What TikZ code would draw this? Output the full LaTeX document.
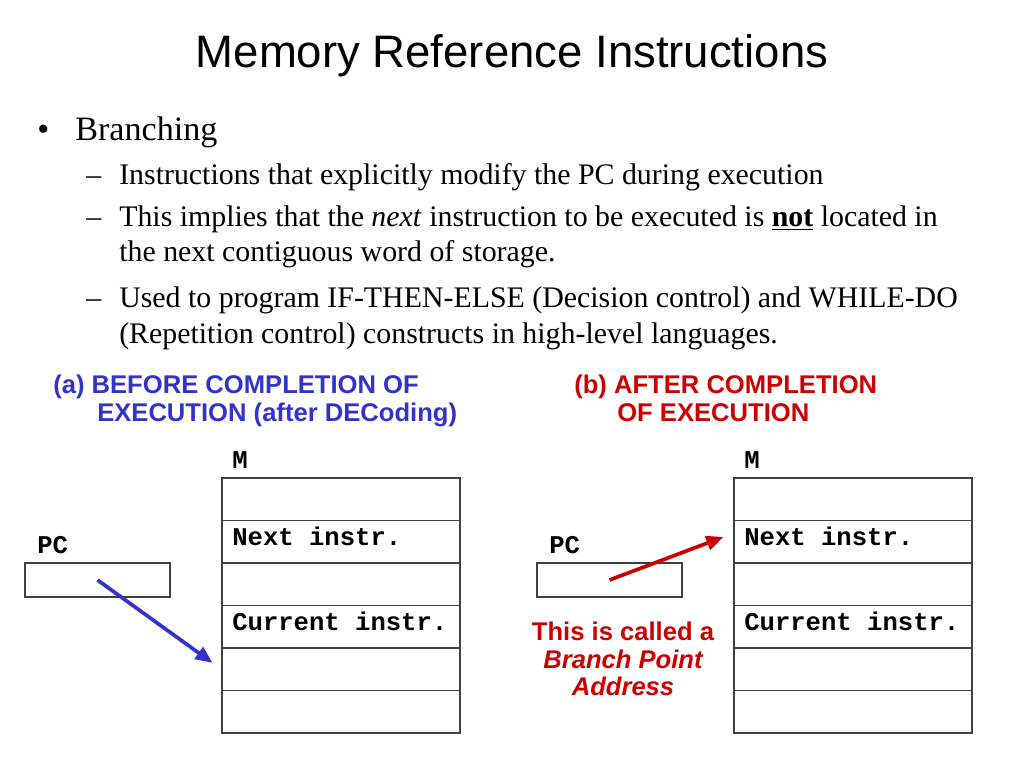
\documentclass[tikz,border=0pt]{standalone}
\usepackage{fontspec}
\setmainfont{Liberation Serif}
\setsansfont{Liberation Sans}
\setmonofont{Liberation Mono}
\usetikzlibrary{positioning, arrows.meta}
\definecolor{capblue}{RGB}{51,51,204}
\definecolor{capred}{RGB}{204,0,0}

\begin{document}
\begin{tikzpicture}[x=0.703125pt, y=-0.703125pt, >={Triangle[length=12pt, width=10pt]},
    cell/.style={draw=black!75, line width=0.9pt, minimum width=167.3pt, minimum height=29.9pt, inner sep=0pt},
    pcbox/.style={draw=black!75, line width=0.9pt, minimum width=102pt, minimum height=23.9pt, inner sep=0pt},
    body/.style={font=\fontsize{21}{25}\selectfont, anchor=base west, inner sep=0pt},
    mono/.style={font=\fontsize{18}{20}\selectfont\ttfamily\bfseries, anchor=base west, inner sep=0pt},
    caption/.style={font=\fontsize{18}{20}\selectfont\sffamily\bfseries, anchor=base west, inner sep=0pt},
    ptr/.style={->, line width=2.6pt}]

    \useasboundingbox (0,0) rectangle (1024,768);

    % --- title and bullets ---
    \node[font=\fontsize{32}{38}\selectfont\sffamily, anchor=base, inner sep=0pt] (title) at (512,68) {Memory Reference Instructions};
    \node[font=\fontsize{24}{28}\selectfont, anchor=base west, inner sep=0pt] (bullet) at (37,141) {\textbullet};
    \node[font=\fontsize{24}{28}\selectfont, anchor=base west, inner sep=0pt] (branching) at (75,141) {Branching};
    \foreach \y in {185, 227, 307} {
        \node[body] at (86,\y) {\textendash};
    }
    \node[body] (line1) at (119,185) {Instructions that explicitly modify the PC during execution};
    \node[body] (line2) at (119,227) {This implies that the \textit{next} instruction to be executed is \underline{\textbf{not}} located in};
    \node[body] (line3) at (119,262) {the next contiguous word of storage.};
    \node[body] (line4) at (119,307) {Used to program IF-THEN-ELSE (Decision control) and WHILE-DO};
    \node[body] (line5) at (119,343) {(Repetition control) constructs in high-level languages.};

    % --- captions ---
    \node[caption, capblue] (capA1) at (53,393) {(a) BEFORE COMPLETION OF};
    \node[caption, capblue] (capA2) at (97,421) {EXECUTION (after DECoding)};
    \node[caption, capred] (capB1) at (574,393) {(b) AFTER COMPLETION};
    \node[caption, capred] (capB2) at (617,421) {OF EXECUTION};

    % --- memory columns ---
    \foreach \i in {1,...,6} {
        \node[cell] (memA\i) at (341, {478+42.5*(\i-0.5)}) {};
        \node[cell] (memB\i) at (853, {478+42.5*(\i-0.5)}) {};
    }
    \node[mono] (mA) at (232,468) {M};
    \node[mono] (mB) at (744,468) {M};
    \node[mono] at (232,545) {Next instr.};
    \node[mono] at (744,545) {Next instr.};
    \node[mono] at (232,630) {Current instr.};
    \node[mono] at (744,630) {Current instr.};

    % --- PC registers ---
    \node[pcbox] (pcA) at (97.5,580) {};
    \node[pcbox] (pcB) at (609.5,580) {};
    \node[mono] (pcLabelA) at (37,553) {PC};
    \node[mono] (pcLabelB) at (549,553) {PC};

    % --- pointers ---
    \draw[ptr, capblue, shorten >=7.7pt] (pcA.center) -- (memA5.west);
    \draw[ptr, capred, shorten >=7.5pt] (pcB.center) -- ([yshift=6pt]memB2.west);

    % --- note ---
    \node[font=\fontsize{18}{20}\selectfont\sffamily\bfseries, capred, anchor=base, inner sep=0pt] (note1) at (623,640) {This is called a};
    \node[font=\fontsize{18}{20}\selectfont\sffamily\bfseries\itshape, capred, anchor=base, inner sep=0pt] (note2) at (623,668) {Branch Point};
    \node[font=\fontsize{18}{20}\selectfont\sffamily\bfseries\itshape, capred, anchor=base, inner sep=0pt] (note3) at (623,695) {Address};
\end{tikzpicture}
\end{document}
